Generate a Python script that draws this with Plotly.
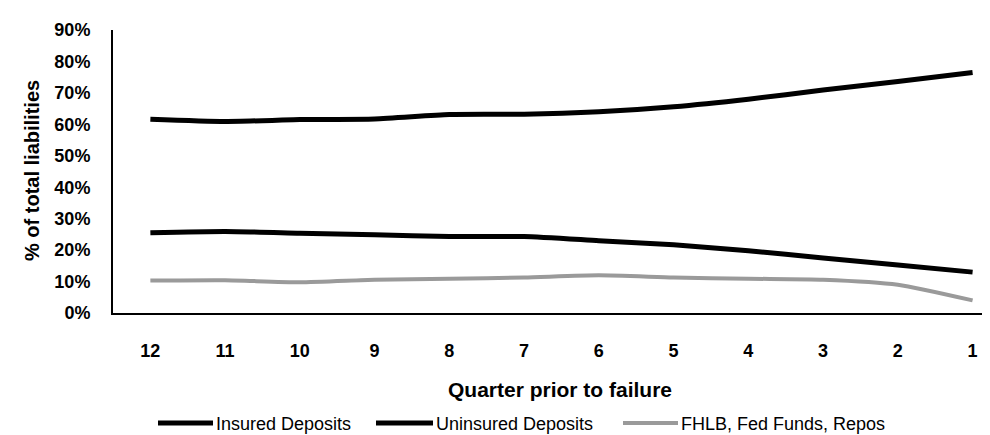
import plotly.graph_objects as go

quarters = ["12", "11", "10", "9", "8", "7", "6", "5", "4", "3", "2", "1"]
insured = [61.6, 60.9, 61.5, 61.7, 63.1, 63.2, 64.0, 65.6, 68.0, 70.9, 73.6, 76.5]
uninsured = [25.5, 25.9, 25.4, 24.9, 24.3, 24.3, 23.0, 21.7, 19.8, 17.5, 15.3, 13.0]
fhlb = [10.3, 10.4, 9.8, 10.6, 10.9, 11.3, 12.0, 11.3, 10.9, 10.6, 9.0, 4.0]
series_names = ["Insured Deposits", "Uninsured Deposits", "FHLB, Fed Funds, Repos"]
y_ticks = [0, 10, 20, 30, 40, 50, 60, 70, 80, 90]
y_ticktext = ["0%", "10%", "20%", "30%", "40%", "50%", "60%", "70%", "80%", "90%"]

W, H = 990, 435
L, R, T, B = 105, 0, 22, 130
PW, PH = W - L - R, H - T - B

def px_x(px):
    return (px - L) / PW

def px_y(py):
    return (H - B - py) / PH

BLACK = "#000000"
GREY = "#9a9a9a"
FONT = "Arial, Liberation Sans, sans-serif"

fig = go.Figure()
styles = [(insured, BLACK, 5), (uninsured, BLACK, 5), (fhlb, GREY, 4)]
for (vals, col, w), name in zip(styles, series_names):
    fig.add_trace(go.Scatter(
        x=quarters, y=vals, mode="lines", name=name,
        line=dict(color=col, width=w, shape="spline", smoothing=0.6),
        showlegend=False,
    ))

fig.update_layout(
    width=W, height=H,
    margin=dict(l=L, r=R, t=T, b=B),
    paper_bgcolor="white", plot_bgcolor="white",
    font=dict(family=FONT, color="black"),
    xaxis=dict(
        type="category", range=[-0.5, 11.34],
        showline=True, linecolor="black", linewidth=2,
        showgrid=False, zeroline=False, ticks="",
        tickfont=dict(size=18, weight="bold", color="black"),
        ticklabelstandoff=20,
    ),
    yaxis=dict(
        range=[0, 90], tickvals=y_ticks, ticktext=y_ticktext,
        showline=True, linecolor="black", linewidth=2,
        showgrid=False, zeroline=False, ticks="",
        tickfont=dict(size=18, weight="bold", color="black"),
        ticklabelstandoff=17,
    ),
)

annotations = [
    dict(text="<b>% of total liabilities</b>", textangle=-90,
         x=px_x(24), y=px_y(163), xref="paper", yref="paper",
         xanchor="center", yanchor="middle", showarrow=False,
         font=dict(size=20, family=FONT, color="black")),
    dict(text="<b>Quarter prior to failure</b>",
         x=px_x(552), y=px_y(381), xref="paper", yref="paper",
         xanchor="center", yanchor="middle", showarrow=False,
         font=dict(size=21, family=FONT, color="black")),
]

# custom legend
legend_items = [
    (150, 205, 207, BLACK, 5),
    (368, 425, 427, BLACK, 5),
    (615, 670, 672, GREY, 4),
]
shapes = []
ly = 415
for (x0, x1, tx, col, w), name in zip(legend_items, series_names):
    shapes.append(dict(type="line", xref="paper", yref="paper",
                       x0=px_x(x0), x1=px_x(x1), y0=px_y(ly), y1=px_y(ly),
                       line=dict(color=col, width=w)))
    annotations.append(dict(text=name, x=px_x(tx), y=px_y(ly + 1),
                            xref="paper", yref="paper", xanchor="left",
                            yanchor="middle", showarrow=False,
                            borderpad=0,
                            font=dict(size=18, family=FONT, color="black")))

fig.update_layout(annotations=annotations, shapes=shapes)
fig.write_html("out.html")
